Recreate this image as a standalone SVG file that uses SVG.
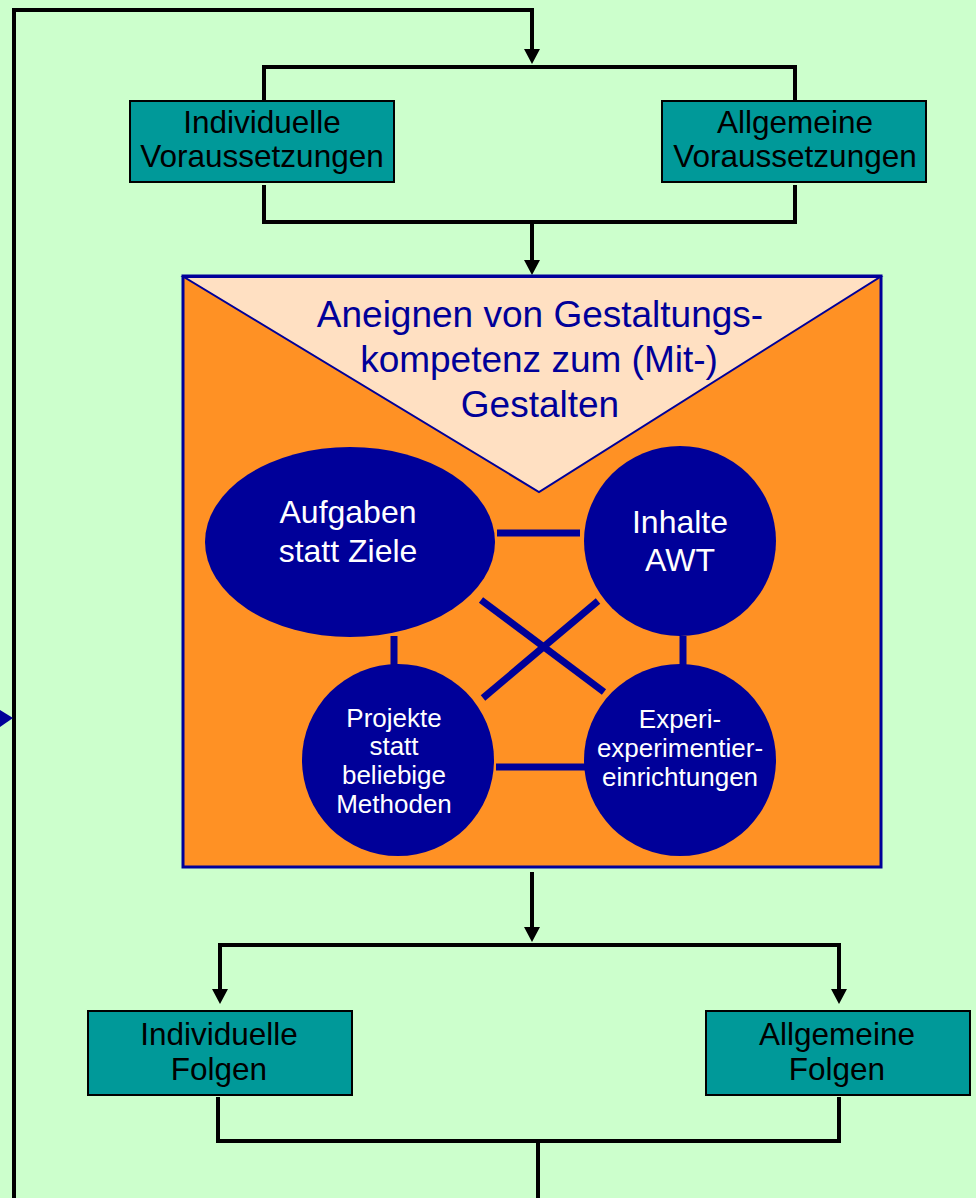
<svg xmlns="http://www.w3.org/2000/svg" width="976" height="1198" viewBox="0 0 976 1198">
  <style>
    .conn { fill: none; stroke: #000000; stroke-width: 4; stroke-linejoin: miter; }
    .link { stroke: #000099; stroke-width: 7; fill: none; }
    .box { fill: #009999; stroke: #000000; stroke-width: 2; }
    .boxtxt { font-family: "Liberation Sans", Arial, sans-serif; font-size: 31.5px; fill: #000000; text-anchor: middle; }
    .circ { fill: #000099; }
    .ctxtL { font-family: "Liberation Sans", Arial, sans-serif; font-size: 32px; fill: #ffffff; text-anchor: middle; }
    .ctxtS { font-family: "Liberation Sans", Arial, sans-serif; font-size: 26px; fill: #ffffff; text-anchor: middle; }
    .title { font-family: "Liberation Sans", Arial, sans-serif; font-size: 37px; fill: #000099; text-anchor: middle; }
  </style>
  <defs>
    <marker id="arr" viewBox="0 0 15 16" refX="5" refY="8" markerWidth="15" markerHeight="16" markerUnits="userSpaceOnUse" orient="auto">
      <path d="M0,0 L15,8 L0,16 z" fill="#000000"/>
    </marker>
  </defs>
  <rect x="0" y="0" width="976" height="1198" fill="#CCFFCC"/>

  <g id="connectors">
    <polyline class="conn" points="14,1198 14,10 532,10 532,54" marker-end="url(#arr)"/>
    <polygon points="0,710 13,718 0,727" fill="#000099"/>
    <polyline class="conn" points="264,100 264,67 795,67 795,100"/>
    <polyline class="conn" points="264,185 264,222 795,222 795,185"/>
    <line class="conn" x1="532" y1="222" x2="532" y2="265" marker-end="url(#arr)"/>
    <line class="conn" x1="532" y1="872" x2="532" y2="932" marker-end="url(#arr)"/>
    <polyline class="conn" points="220,994 220,945 839,945 839,994"/>
    <line class="conn" x1="220" y1="990" x2="220" y2="994" marker-end="url(#arr)"/>
    <line class="conn" x1="839" y1="990" x2="839" y2="994" marker-end="url(#arr)"/>
    <polyline class="conn" points="218,1097 218,1141 839,1141 839,1097"/>
    <line class="conn" x1="538" y1="1141" x2="538" y2="1198"/>
  </g>

  <g id="individuelle-voraussetzungen">
    <rect class="box" x="130" y="101" width="264" height="81"/>
    <text class="boxtxt" x="262" y="133">Individuelle</text>
    <text class="boxtxt" x="262" y="167">Voraussetzungen</text>
  </g>
  <g id="allgemeine-voraussetzungen">
    <rect class="box" x="662" y="101" width="264" height="81"/>
    <text class="boxtxt" x="795" y="133">Allgemeine</text>
    <text class="boxtxt" x="795" y="167">Voraussetzungen</text>
  </g>

  <g id="gestaltungskompetenz">
    <rect x="183" y="276" width="698" height="591" fill="#FF9124" stroke="#000099" stroke-width="3"/>
    <polygon points="184,277 880,277 539,492" fill="#FFE0C2" stroke="#000099" stroke-width="2"/>
    <text class="title" x="540" y="327">Aneignen von Gestaltungs-</text>
    <text class="title" x="539" y="372">kompetenz zum (Mit-)</text>
    <text class="title" x="540" y="417">Gestalten</text>
  </g>

  <g id="links">
    <line class="link" x1="497" y1="533" x2="580" y2="533"/>
    <line class="link" x1="394" y1="636" x2="394" y2="665"/>
    <line class="link" x1="683" y1="636" x2="683" y2="665"/>
    <line class="link" x1="496" y1="767" x2="585" y2="767"/>
    <line class="link" x1="481" y1="600" x2="604" y2="692"/>
    <line class="link" x1="598" y1="601" x2="483" y2="698"/>
  </g>

  <g id="aufgaben">
    <ellipse class="circ" cx="350" cy="542" rx="145" ry="95"/>
    <text class="ctxtL" x="348" y="523">Aufgaben</text>
    <text class="ctxtL" x="348" y="562">statt Ziele</text>
  </g>
  <g id="inhalte">
    <ellipse class="circ" cx="680" cy="541" rx="96" ry="95"/>
    <text class="ctxtL" x="680" y="533">Inhalte</text>
    <text class="ctxtL" x="680" y="571">AWT</text>
  </g>
  <g id="projekte">
    <ellipse class="circ" cx="398" cy="760" rx="96" ry="96"/>
    <text class="ctxtS" x="394" y="727">Projekte</text>
    <text class="ctxtS" x="394" y="755">statt</text>
    <text class="ctxtS" x="394" y="784">beliebige</text>
    <text class="ctxtS" x="394" y="813">Methoden</text>
  </g>
  <g id="experimentier">
    <ellipse class="circ" cx="680" cy="760" rx="96" ry="96"/>
    <text class="ctxtS" x="680" y="728">Experi-</text>
    <text class="ctxtS" x="680" y="757">experimentier-</text>
    <text class="ctxtS" x="680" y="786">einrichtungen</text>
  </g>

  <g id="individuelle-folgen">
    <rect class="box" x="88" y="1011" width="264" height="84"/>
    <text class="boxtxt" x="219" y="1045">Individuelle</text>
    <text class="boxtxt" x="219" y="1080">Folgen</text>
  </g>
  <g id="allgemeine-folgen">
    <rect class="box" x="706" y="1011" width="264" height="84"/>
    <text class="boxtxt" x="837" y="1045">Allgemeine</text>
    <text class="boxtxt" x="837" y="1080">Folgen</text>
  </g>
</svg>
